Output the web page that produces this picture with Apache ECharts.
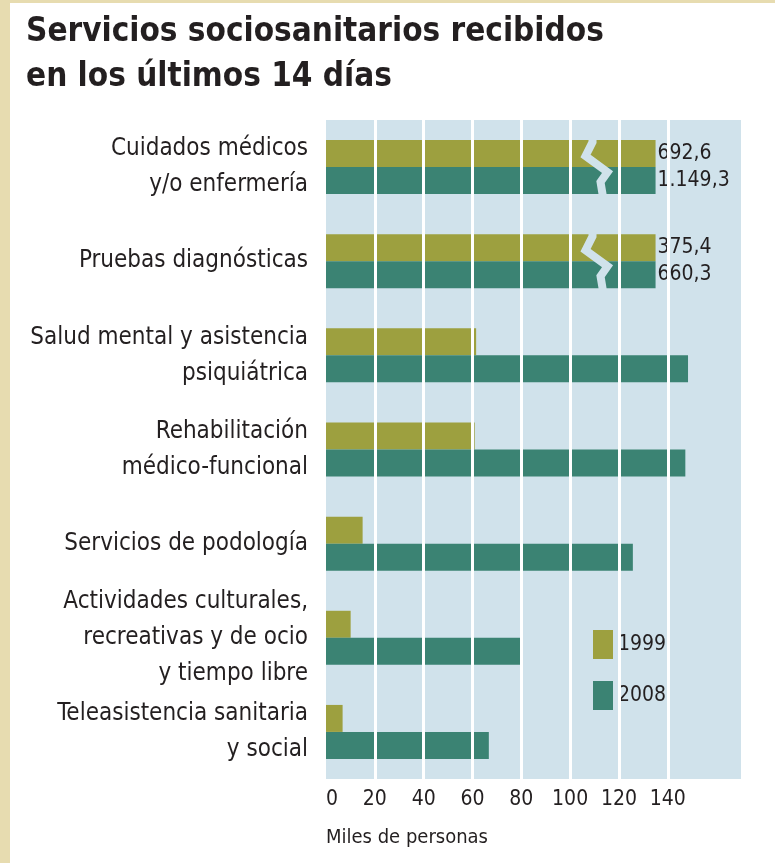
<!DOCTYPE html>
<html>
<head>
<meta charset="utf-8">
<script src="https://cdn.jsdelivr.net/npm/echarts@6/dist/echarts.min.js"></script>
<style>
  html, body { margin: 0; padding: 0; }
  body { width: 775px; height: 863px; background: #e7dcb0; position: relative; overflow: hidden; }
  #chart { position: absolute; left: 10px; top: 3px; width: 765px; height: 860px; background: #ffffff; }
</style>
</head>
<body>
<div id="chart"></div>
<script>
  const categories = [
    'Cuidados médicos\ny/o enfermería',
    'Pruebas diagnósticas',
    'Salud mental y asistencia\npsiquiátrica',
    'Rehabilitación\nmédico-funcional',
    'Servicios de podología',
    'Actividades culturales,\nrecreativas y de ocio\ny tiempo libre',
    'Teleasistencia sanitaria\ny social'
  ];
  const values1999 = [692.6, 375.4, 61.5, 60.9, 15.0, 10.1, 6.8];
  const values2008 = [1149.3, 660.3, 148.3, 147.2, 125.7, 79.9, 66.7];
  const labels1999 = ['692,6', '375,4', '', '', '', '', ''];
  const labels2008 = ['1.149,3', '660,3', '', '', '', '', ''];
  const tickValues = [0, 20, 40, 60, 80, 100, 120, 140];
  const axisMax = 170;
  const barCap = 135;      // broken bars are drawn to this length
  const breakValue = 110;  // where the zigzag cut sits
  const brokenRows = [0, 1];

  const FONT = "'Liberation Sans Narrow', 'Arial Narrow', 'DejaVu Sans Condensed', sans-serif";
  const OLIVE = '#9da03f';
  const TEAL = '#3b8373';
  const PLOT_BG = '#d0e2eb';
  const INK = '#231f20';

  // zigzag cut shape, offsets from the break point (px)
  const cutShape = [[-2, -30], [-2, -25], [-9, -11], [13, 5], [6, 15], [8, 27], [8, 31]];

  const chart = echarts.init(document.getElementById('chart'), null, { renderer: 'canvas' });

  const labelStyle = {
    show: true,
    position: 'right',
    distance: 2,
    fontFamily: FONT,
    fontSize: 21,
    color: INK,
    backgroundColor: PLOT_BG,
    padding: [5, 2, 5, 0]
  };

  const barData = (values, labels) => values.map((v, i) => ({
    value: brokenRows.indexOf(i) >= 0 ? Math.min(v, barCap) : v,
    label: { ...labelStyle, show: labels[i] !== '', formatter: labels[i] }
  }));

  chart.setOption({
    animation: false,
    title: [
      {
        text: 'Servicios sociosanitarios recibidos\nen los últimos 14 días',
        left: 16,
        top: 7,
        padding: 0,
        textStyle: { fontFamily: FONT, fontSize: 33, fontWeight: 'bold', color: INK, lineHeight: 45 }
      },
      {
        text: 'Miles de personas',
        left: 316,
        top: 825,
        padding: 0,
        textStyle: { fontFamily: FONT, fontSize: 20, fontWeight: 'normal', color: INK }
      }
    ],
    legend: {
      data: ['1999', '2008'],
      orient: 'vertical',
      left: 573,
      top: 605,
      padding: [22, 0, 16, 10],
      itemGap: 22,
      itemWidth: 20,
      itemHeight: 29,
      icon: 'rect',
      backgroundColor: PLOT_BG,
      textStyle: { fontFamily: FONT, fontSize: 21, color: INK }
    },
    grid: {
      left: 316,
      top: 117,
      width: 415,
      height: 659,
      outerBoundsMode: 'none',
      containLabel: false,
      show: true,
      backgroundColor: PLOT_BG,
      borderWidth: 0
    },
    xAxis: {
      type: 'value',
      min: 0,
      max: axisMax,
      interval: 20,
      axisLine: { show: false },
      axisTick: { show: false },
      splitLine: { show: false },
      axisLabel: {
        fontFamily: FONT,
        fontSize: 21,
        color: INK,
        margin: 10,
        alignMinLabel: 'left',
        formatter: (v) => (tickValues.indexOf(v) >= 0 ? String(v) : '')
      }
    },
    yAxis: {
      type: 'category',
      data: categories,
      inverse: true,
      axisLine: { show: false },
      axisTick: { show: false },
      axisLabel: {
        fontFamily: FONT,
        fontSize: 24,
        lineHeight: 36,
        color: INK,
        margin: 18,
        align: 'right'
      }
    },
    series: [
      {
        type: 'line',
        data: [],
        z: 1,
        silent: true,
        markLine: {
          silent: true,
          symbol: 'none',
          label: { show: false },
          lineStyle: { color: '#ffffff', width: 3, type: 'solid' },
          data: tickValues.slice(1).map((v) => ({ xAxis: v }))
        }
      },
      {
        name: '1999',
        type: 'bar',
        z: 2,
        barWidth: 27,
        barGap: '0%',
        itemStyle: { color: OLIVE },
        data: barData(values1999, labels1999)
      },
      {
        name: '2008',
        type: 'bar',
        z: 2,
        barWidth: 27,
        barGap: '0%',
        itemStyle: { color: TEAL },
        data: barData(values2008, labels2008)
      },
      {
        type: 'custom',
        z: 3,
        silent: true,
        data: brokenRows.map((r) => [breakValue, r]),
        encode: { x: 0, y: 1 },
        renderItem: (params, api) => {
          const p = api.coord([api.value(0), api.value(1)]);
          return {
            type: 'polyline',
            shape: { points: cutShape.map((o) => [p[0] + o[0], p[1] + o[1]]) },
            style: { stroke: PLOT_BG, lineWidth: 8, fill: null, lineJoin: 'miter' }
          };
        }
      }
    ]
  });
</script>
</body>
</html>
